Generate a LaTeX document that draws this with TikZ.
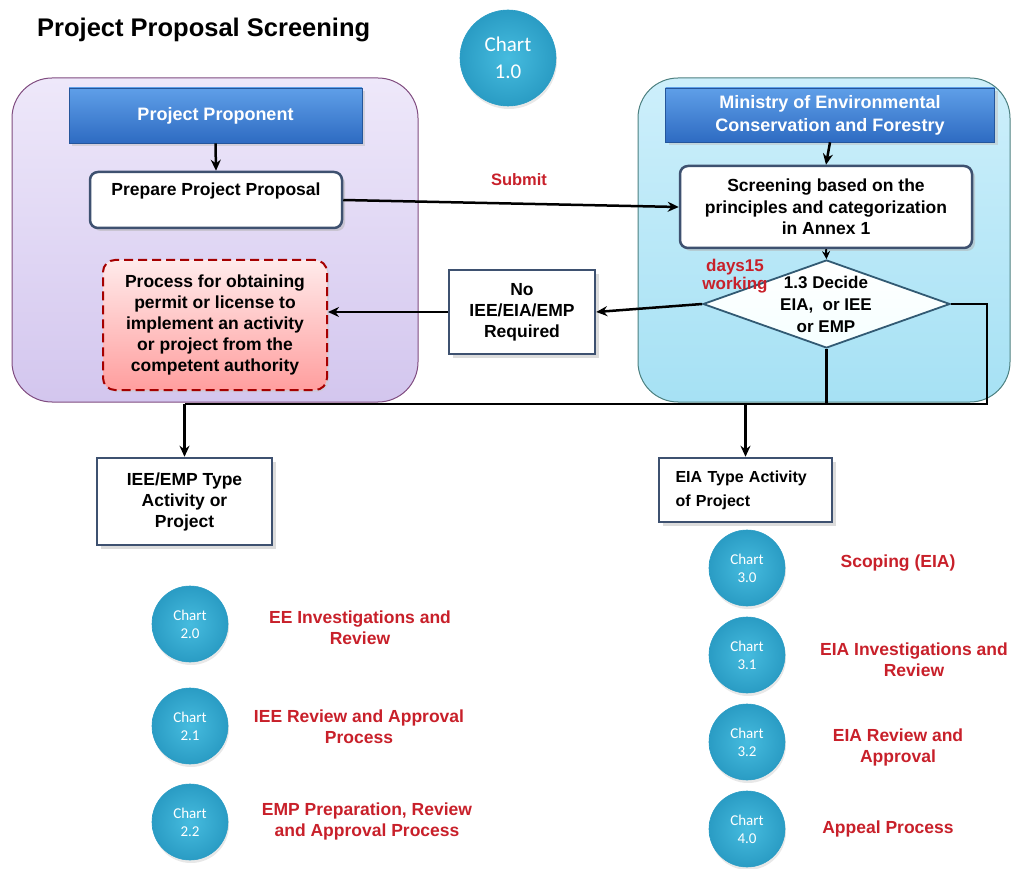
\documentclass[tikz,border=0pt]{standalone}
\usepackage{fontspec}
\setmainfont{Liberation Sans}
\newfontfamily\calfont{Carlito}
\usetikzlibrary{shapes.geometric,arrows.meta,shadows}
\definecolor{redtxt}{HTML}{C8202A}
\definecolor{slate}{HTML}{3E5170}
\definecolor{chartc}{HTML}{36B6DC}
\definecolor{chartd}{HTML}{2A9CC4}
\definecolor{lavtop}{HTML}{EEE8FA}
\definecolor{lavbot}{HTML}{D3C6EE}
\definecolor{skytop}{HTML}{CDEFFB}
\definecolor{skybot}{HTML}{A6E1F4}
\definecolor{bartop}{HTML}{5F9FE8}
\definecolor{barbot}{HTML}{2E6BC2}
\tikzset{
  panelL/.style={draw=gray!60!violet, line width=1pt, rounded corners=40pt, top color=lavtop, bottom color=lavbot, inner sep=0pt},
  panelR/.style={draw=teal!40!gray, line width=1pt, rounded corners=40pt, top color=skytop, bottom color=skybot, inner sep=0pt},
  bar/.style={draw=barbot!80!black, line width=0.6pt, top color=bartop, bottom color=barbot, text=white, font=\bfseries\fontsize{18}{23}\selectfont, align=center, inner sep=0pt, drop shadow={shadow xshift=3pt, shadow yshift=-3pt, fill=gray!50}},
  rbox/.style={draw=slate, line width=2.5pt, fill=white, rounded corners=8pt, align=center, font=\bfseries\fontsize{17.5}{21.5}\selectfont, inner sep=0pt, drop shadow={shadow xshift=3pt, shadow yshift=-3pt, fill=gray!60}},
  sbox/.style={draw=slate, line width=2.5pt, fill=white, align=center, font=\bfseries\fontsize{17.5}{21}\selectfont, inner sep=0pt, drop shadow={shadow xshift=4pt, shadow yshift=-4pt, fill=gray!55}},
  chart/.style={circle, inner sep=0pt, minimum size=76pt, draw=chartd, line width=0.6pt, inner color=chartc!92!white, outer color=chartd, text=white, align=center, font=\calfont\fontsize{15}{18}\selectfont, drop shadow={shadow xshift=1pt, shadow yshift=-3pt, fill=gray!35}},
  rlabel/.style={text=redtxt, font=\bfseries\fontsize{17.5}{21}\selectfont, align=center, inner sep=0pt},
  conn/.style={line width=2.5pt, black},
  arr/.style={line width=2.5pt, black, -{Stealth[length=11pt,width=10pt]}},
}
\begin{document}
\begin{tikzpicture}[x=1pt,y=-1pt]
\useasboundingbox (0,0) rectangle (1013,869);
% title
\node[anchor=west, font=\bfseries\fontsize{25.5}{30}\selectfont, inner sep=0pt] (title) at (37,30) {Project Proposal Screening};
\node[chart, minimum size=96pt, font=\calfont\fontsize{21}{27}\selectfont] (c10) at (508,58) {Chart\\1.0};
% panels
\node[panelL, minimum width=406pt, minimum height=324pt] (lp) at (215,240) {};
\node[panelR, minimum width=372pt, minimum height=324pt] (rp) at (824,240) {};
% left panel contents
\node[bar, minimum width=293pt, minimum height=55pt] (pp) at (215.5,115.5) {Project Proponent};
\node[rbox, minimum width=252pt, minimum height=56pt] (prep) at (216,200) {Prepare Project Proposal\\[-7pt]\strut};
\node[draw=red!65!black, dashed, dash pattern=on 9pt off 5pt, line width=2pt, rounded corners=12pt, top color=red!8, bottom color=red!38, minimum width=224pt, minimum height=130pt, inner sep=0pt, align=center, font=\bfseries\fontsize{17.5}{21}\selectfont, drop shadow={shadow xshift=2pt, shadow yshift=-2pt, fill=gray!40}] (proc) at (215,325) {Process for obtaining\\permit or license to\\implement an activity\\or project from the\\competent authority};
% right panel contents
\node[bar, minimum width=329pt, minimum height=54pt] (min) at (830,115) {Ministry of Environmental\\Conservation and Forestry};
\node[rbox, minimum width=292pt, minimum height=82pt] (scr) at (826,207) {Screening based on the\\principles and categorization\\in Annex 1};
\node[diamond, draw=slate!80!teal, line width=1.8pt, top color=white, bottom color=cyan!4, minimum width=247pt, minimum height=88pt, inner sep=0pt] (dec) at (826.5,304) {};
\node[align=center, font=\bfseries\fontsize{17}{22}\selectfont, inner sep=0pt] (dect) at (826,304) {1.3 Decide\\EIA,~~or IEE\\or EMP};
\node[rlabel, font=\bfseries\fontsize{17}{18}\selectfont] (days) at (735,276) {days15\\working};
% middle box
\node[sbox, minimum width=146pt, minimum height=84pt] (noreq) at (522,312) {No\\IEE/EIA/EMP\\Required};
\node[rlabel, font=\bfseries\fontsize{16.5}{18}\selectfont] (submit) at (519,180) {Submit};
% lower boxes
\node[sbox, minimum width=175pt, minimum height=87pt] (iee) at (184.5,501.5) {IEE/EMP Type\\Activity or\\Project};
\node[sbox, minimum width=173pt, minimum height=64pt, text width=140pt, align=left, font=\bfseries\fontsize{16}{24}\selectfont] (eia) at (745.5,490) {EIA Type Activity\\of Project};
% connectors
\draw[arr] (pp.south) -- (prep.north);
\draw[arr] (min.south) -- (scr.north);
\draw[line width=2pt, -{Stealth[length=8pt,width=8pt]}] (scr.south) -- (dec.north);
\draw[arr] (prep.east) -- (scr.west);
\draw[arr] (dec.west) -- (noreq.east);
\draw[arr] (noreq.west) -- (noreq.west -| proc.east);
\coordinate (rc) at (987,404);
\draw[conn] (dec.east) -| (rc) -- (iee.north |- rc);
\draw[conn] (dec.south) -- (dec.south |- rc);
\draw[arr] (iee.north |- rc) -- (iee.north);
\draw[arr] (eia.north |- rc) -- (eia.north);
% chart circles left
\node[chart] (c20) at (190,624) {Chart\\2.0};
\node[chart] (c21) at (190,726) {Chart\\2.1};
\node[chart] (c22) at (190,822) {Chart\\2.2};
\node[rlabel] (l20) at (360,628) {EE Investigations and\\Review};
\node[rlabel] (l21) at (359,727) {IEE Review and Approval\\Process};
\node[rlabel] (l22) at (367,821) {EMP Preparation, Review\\and Approval Process};
% chart circles right
\node[chart] (c30) at (747,568) {Chart\\3.0};
\node[chart] (c31) at (747,655) {Chart\\3.1};
\node[chart] (c32) at (747,742) {Chart\\3.2};
\node[chart] (c40) at (747,829) {Chart\\4.0};
\node[rlabel] (l30) at (898,563) {Scoping (EIA)};
\node[rlabel] (l31) at (914,660) {EIA Investigations and\\Review};
\node[rlabel] (l32) at (898,747) {EIA Review and\\Approval};
\node[rlabel] (l40) at (888,829) {Appeal Process};
\end{tikzpicture}
\end{document}
